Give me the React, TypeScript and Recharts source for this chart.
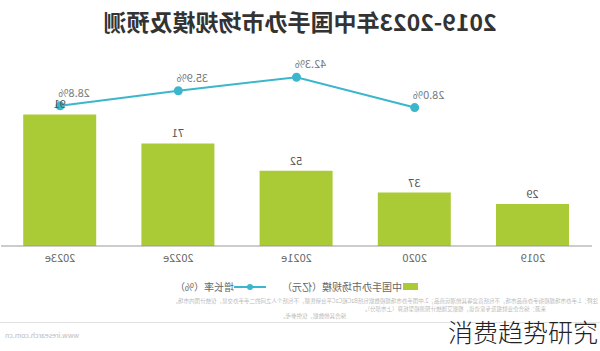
import { ComposedChart, Bar, Line, XAxis, YAxis, Legend, LabelList } from "recharts";

const years = ["2019", "2020", "2021e", "2022e", "2023e"];
const marketSize = [29, 37, 52, 71, 91];
const growthRate = [null, 28.0, 42.3, 35.9, 28.8];

const data = years.map((year, i) => ({
  year,
  size: marketSize[i],
  growth: growthRate[i],
}));

const FONT = '"Noto Sans CJK SC", "Noto Sans", sans-serif';
const GREEN = "#aacb36";
const TEAL = "#3bb6cc";

function GrowthLabel(props: any) {
  const { x, y, value } = props;
  if (value == null) return null;
  return (
    <text x={x - 14} y={y - 9} textAnchor="middle" fill="#777" fontSize={11} fontFamily={FONT}>
      {value.toFixed(1)}%
    </text>
  );
}

function ChartLegend() {
  return (
    <div style={{ display: "flex", justifyContent: "center", alignItems: "center", fontSize: 10, color: "#666", fontFamily: FONT }}>
      <span style={{ display: "inline-block", width: 15, height: 7, background: GREEN, marginRight: 1 }} />
      <span>中国手办市场规模（亿元）</span>
      <svg width={32} height={10} style={{ marginLeft: 16 }}>
        <line x1={0} y1={5} x2={32} y2={5} stroke={TEAL} strokeWidth={2} />
        <circle cx={16} cy={5} r={3} fill={TEAL} />
      </svg>
      <span>增长率（%）</span>
    </div>
  );
}

export default function App() {
  return (
    <div style={{ position: "fixed", left: 0, top: 0, width: 600, height: 351, background: "#fff", overflow: "hidden" }}>
      {/* the reference is a mirrored picture, so the whole chart is flipped */}
      <div style={{ position: "absolute", left: 0, top: 0, width: 600, height: 351, transform: "scaleX(-1)", fontFamily: FONT }}>
        <div style={{ position: "absolute", top: 6, left: 0, width: 600, textAlign: "center", fontSize: 23, fontWeight: 700, color: "#333", lineHeight: "30px" }}>
          2019-2023年中国手办市场规模及预测
        </div>
        <div style={{ position: "absolute", left: 0, top: 0 }}>
          <ComposedChart width={600} height={296} data={data} margin={{ top: 60, right: 1, bottom: 0, left: 8 }}>
            <XAxis
              dataKey="year"
              tickLine={false}
              axisLine={{ stroke: "#999" }}
              tick={{ fill: "#666", fontSize: 11, fontFamily: FONT }}
              height={30}
            />
            <YAxis yAxisId="left" domain={[0, 128.7]} hide />
            <YAxis yAxisId="right" orientation="right" domain={[-37.2, 50.4]} hide />
            <Legend verticalAlign="bottom" height={20} wrapperStyle={{ top: 279 }} content={ChartLegend} />
            <Bar yAxisId="left" dataKey="size" name="中国手办市场规模（亿元）" fill={GREEN} barSize={73} isAnimationActive={false}>
              <LabelList dataKey="size" position="top" offset={6} fill="#555" fontSize={11} fontFamily={FONT} />
            </Bar>
            <Line
              yAxisId="right"
              dataKey="growth"
              name="增长率（%）"
              stroke={TEAL}
              strokeWidth={2}
              dot={{ r: 3.5, fill: TEAL, stroke: TEAL }}
              isAnimationActive={false}
            >
              <LabelList dataKey="growth" content={GrowthLabel} />
            </Line>
          </ComposedChart>
        </div>
        <div style={{ position: "absolute", left: 2, top: 298, width: 598, fontSize: 5.5, lineHeight: "7.5px", color: "#bbb", whiteSpace: "nowrap", overflow: "hidden" }}>
          <div>注释：1.手办市场规模指手办商品市场，不包括盲盒等其他潮玩商品；2.中国手办市场规模数据包括B2C和C2C平台销售额，不包括个人之间的二手手办交易，仅统计国内市场。</div>
          <div style={{ paddingLeft: 52 }}>来源：综合企业财报及专家访谈，根据艾瑞统计预测模型核算（上市部分）。</div>
          <div style={{ paddingLeft: 252 }}>综合其他数据，仅供参考。</div>
        </div>
        <div style={{ position: "absolute", left: 0, top: 322, width: 600, height: 1, background: "#e2e2e2" }} />
        <div style={{ position: "absolute", right: 5, top: 330, fontSize: 7, color: "#bbb" }}>www.iresearch.com.cn</div>
      </div>
      <div style={{ position: "absolute", left: 448, top: 316, fontSize: 25, fontWeight: 300, color: "#222", fontFamily: FONT, lineHeight: "30px", whiteSpace: "nowrap" }}>
        消费趋势研究
      </div>
    </div>
  );
}
